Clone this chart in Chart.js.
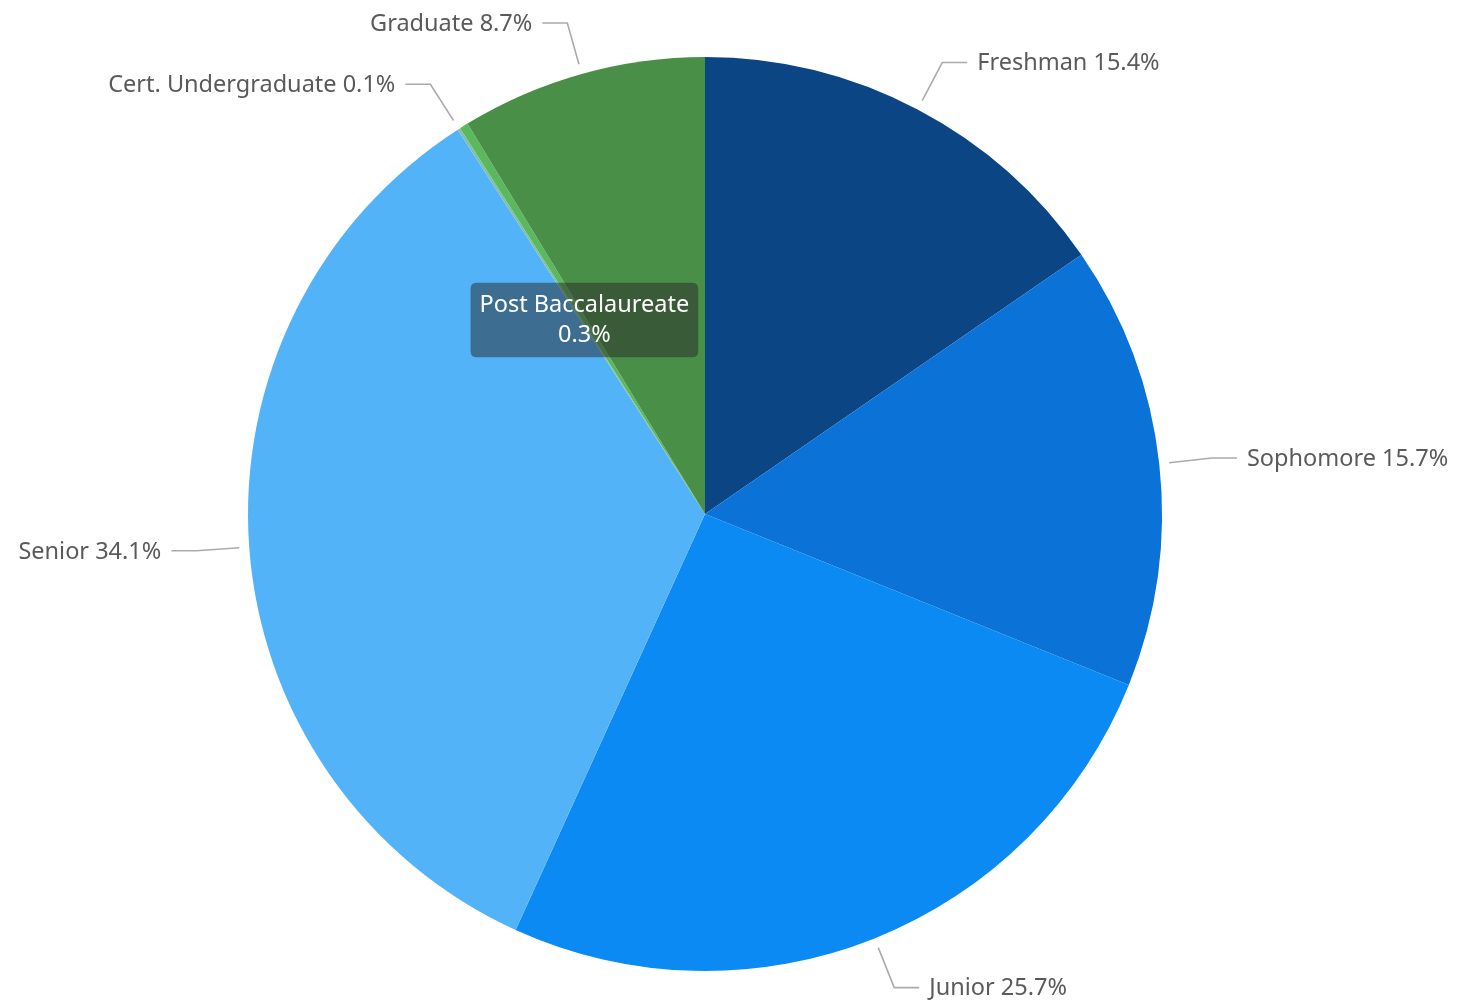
<!DOCTYPE html>
<html>
<head>
<meta charset="utf-8">
<script src="https://cdn.jsdelivr.net/npm/chart.js@4/dist/chart.umd.min.js"></script>
<style>
  body { margin: 0; background: #fff; }
  canvas { display: block; }
</style>
</head>
<body>
<canvas id="classpie" width="1473" height="1006"></canvas>
<script>
// class level breakdown (percent)
var levels = ['Freshman', 'Sophomore', 'Junior', 'Senior', 'Cert. Undergraduate', 'Post Baccalaureate', 'Graduate'];
var shares = [15.4, 15.7, 25.7, 34.1, 0.1, 0.3, 8.7];
var colors = ['#0b4583', '#0b72d7', '#0a8af2', '#53b3f8', '#7fbfb0', '#5cb85c', '#4a8f48'];

var FONT_FAMILY = '"Noto Sans", "Open Sans", sans-serif';
var LABEL_FONT = '23.5px ' + FONT_FAMILY;

// leader lines + outside labels
const outsideLabels = {
  id: 'outsideLabels',
  afterDatasetsDraw(chart) {
    const ctx = chart.ctx;
    const meta = chart.getDatasetMeta(0);
    ctx.save();
    ctx.font = LABEL_FONT;
    ctx.textBaseline = 'middle';
    meta.data.forEach((arc, i) => {
      if (i === 5) return; // this one is shown in the tooltip instead
      const mid = (arc.startAngle + arc.endAngle) / 2;
      const c = Math.cos(mid), s = Math.sin(mid);
      const r = arc.outerRadius;
      const x1 = arc.x + c * (r + 10), y1 = arc.y + s * (r + 10);
      const x2 = arc.x + c * (r + 53), y2 = arc.y + s * (r + 53);
      const right = c >= 0;
      const x3 = x2 + (right ? 25 : -25);
      ctx.strokeStyle = '#ababab';
      ctx.lineWidth = 1.6;
      ctx.beginPath();
      ctx.moveTo(x1, y1);
      ctx.lineTo(x2, y2);
      ctx.lineTo(x3, y2);
      ctx.stroke();
      ctx.fillStyle = '#5a5a5a';
      ctx.textAlign = right ? 'left' : 'right';
      ctx.fillText(levels[i] + ' ' + shares[i] + '%', x3 + (right ? 10 : -10), y2 + 1);
    });
    ctx.restore();
  }
};

Chart.Tooltip.positioners.sliceMid = function(items) {
  if (!items.length) return false;
  const p = items[0].element.tooltipPosition();
  return { x: p.x, y: p.y };
};

var ctx_pie = document.getElementById('classpie');
var classpie = new Chart(ctx_pie, {
  type: 'pie',
  data: {
    labels: levels,
    datasets: [
      {
        data: shares,
        backgroundColor: colors,
        borderWidth: 0,
        hoverOffset: 0,
        radius: 457,
      }
    ],
  },
  options: {
    responsive: false,
    animation: false,
    events: [],
    layout: {
      padding: { top: 57, bottom: 35, left: 0, right: 63 }
    },
    plugins: {
      legend: { display: false },
      tooltip: {
        position: 'sliceMid',
        xAlign: 'center',
        yAlign: 'center',
        caretSize: 0,
        backgroundColor: 'rgba(40,40,40,0.5)',
        cornerRadius: 6,
        padding: { top: 8, bottom: 8, left: 9, right: 9 },
        displayColors: false,
        titleAlign: 'center',
        bodyAlign: 'center',
        titleColor: '#fff',
        bodyColor: '#fff',
        titleFont: { family: FONT_FAMILY, size: 23.5, weight: 'normal', lineHeight: 1.2 },
        bodyFont: { family: FONT_FAMILY, size: 23.5, lineHeight: 1.2 },
        titleMarginBottom: 2,
        callbacks: {
          title: (items) => items[0].label,
          label: (item) => item.parsed + '%'
        }
      }
    }
  },
  plugins: [outsideLabels]
});

classpie.tooltip.setActiveElements([{ datasetIndex: 0, index: 5 }], { x: 0, y: 0 });
classpie.update();
</script>
</body>
</html>
